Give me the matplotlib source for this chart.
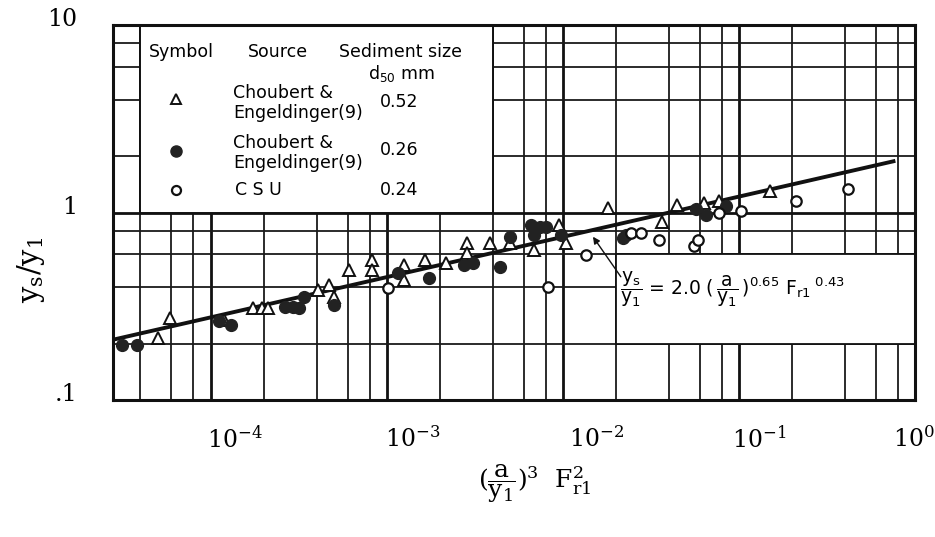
import matplotlib.pyplot as plt
from matplotlib.patches import Rectangle
from matplotlib.ticker import LogLocator, NullFormatter
from matplotlib.transforms import ScaledTranslation

# open triangles: Choubert & Engeldinger (9), d50 = 0.52 mm
tri_x = [5.0e-5, 5.86e-5, 1.19e-4, 1.75e-4, 1.95e-4, 2.13e-4, 4.09e-4, 4.72e-4,
         5.04e-4, 6.13e-4, 8.27e-4, 8.27e-4, 1.26e-3, 1.26e-3, 1.65e-3, 2.17e-3,
         2.86e-3, 2.86e-3, 3.86e-3, 5.01e-3, 6.85e-3, 9.49e-3, 1.04e-2, 1.8e-2,
         3.64e-2, 4.43e-2, 6.29e-2, 7.65e-2, 0.149]
tri_y = [0.215, 0.275, 0.268, 0.31, 0.31, 0.31, 0.387, 0.412,
         0.356, 0.496, 0.561, 0.496, 0.527, 0.438, 0.561, 0.54,
         0.691, 0.611, 0.691, 0.691, 0.634, 0.863, 0.691, 1.06,
         0.895, 1.10, 1.13, 1.15, 1.30]

# filled circles: Choubert & Engeldinger (9), d50 = 0.26 mm
dot_x = [3.13e-5, 3.81e-5, 1.12e-4, 1.31e-4, 2.63e-4, 2.95e-4, 3.19e-4, 3.41e-4,
         5.04e-4, 1.16e-3, 1.74e-3, 2.75e-3, 3.09e-3, 4.4e-3, 5.01e-3, 6.59e-3,
         6.85e-3, 7.41e-3, 8.01e-3, 9.75e-3, 2.19e-2, 2.28e-2, 5.67e-2, 6.46e-2,
         8.39e-2]
dot_y = [0.197, 0.197, 0.264, 0.252, 0.314, 0.314, 0.31, 0.356,
         0.322, 0.478, 0.449, 0.527, 0.54, 0.514, 0.744, 0.863,
         0.763, 0.842, 0.842, 0.763, 0.735, 0.763, 1.04, 0.975,
         1.08]

# open circles: CSU, d50 = 0.24 mm
csu_x = [1.01e-3, 8.22e-3, 1.35e-2, 2.43e-2, 2.77e-2, 3.5e-2, 5.52e-2, 5.82e-2,
         7.65e-2, 0.102, 0.209, 0.412]
csu_y = [0.397, 0.402, 0.596, 0.782, 0.782, 0.717, 0.666, 0.717,
         1.0, 1.025, 1.16, 1.33]

# fitted line ys/y1 = 2.0 (a/y1)^0.65 Fr1^0.43, end points
fit_x = [2.8e-5, 0.77]
fit_y = [0.21, 1.89]

x_ticks = [1e-4, 1e-3, 1e-2, 1e-1, 1e0]
x_labels = [r'$10^{-4}$', r'$10^{-3}$', r'$10^{-2}$', r'$10^{-1}$', r'$10^{0}$']
y_ticks = [0.1, 1, 10]
y_labels = ['.1', '1', '10']

plt.rcParams['font.family'] = 'DejaVu Serif'
plt.rcParams['mathtext.fontset'] = 'dejavuserif'

fig = plt.figure(figsize=(9.35, 5.37), dpi=100)
ax = fig.add_axes([0.121, 0.255, 0.858, 0.698])
ax.set_xscale('log')
ax.set_yscale('log')
ax.set_xlim(2.8e-5, 1.0)
ax.set_ylim(0.1, 10)

ax.set_xticks(x_ticks, x_labels, fontsize=17)
ax.set_yticks(y_ticks, y_labels, fontsize=17)
for a in (ax.xaxis, ax.yaxis):
    a.set_minor_locator(LogLocator(base=10, subs=(2, 4, 6, 8), numticks=30))
    a.set_minor_formatter(NullFormatter())
ax.tick_params(which='both', length=0)
ax.tick_params(axis='x', pad=19)
ax.tick_params(axis='y', pad=26)

# typed labels sit a bit off the grid lines in the original
x_shift = [-4, -2, 6, -7, -22]
for lab, dx in zip(ax.get_xticklabels(), x_shift):
    lab.set_horizontalalignment('left')
    lab.set_transform(lab.get_transform() + ScaledTranslation(dx / 100, 0, fig.dpi_scale_trans))
for lab in ax.get_yticklabels():
    lab.set_transform(lab.get_transform() + ScaledTranslation(0, 8 / 100, fig.dpi_scale_trans))

ax.set_axisbelow(True)
ax.grid(which='major', color='#111111', lw=2.0)
ax.grid(which='minor', color='#1a1a1a', lw=1.3)
for s in ax.spines.values():
    s.set_linewidth(2.2)
    s.set_color('#111111')

# legend panel and equation panel blank out the grid
ax.add_patch(Rectangle((4e-5, 1), 4e-3 - 4e-5, 9, facecolor='white',
                       edgecolor='#111111', lw=1.4, zorder=1))
ax.add_patch(Rectangle((0.02, 0.2), 0.98, 0.4, facecolor='white',
                       edgecolor='#111111', lw=1.3, zorder=1))

ax.plot(fit_x, fit_y, color='#111111', lw=2.8, zorder=2, solid_capstyle='butt')
ax.plot(tri_x, tri_y, '^', ms=8, mfc='white', mec='#111111', mew=1.4, ls='none', zorder=3)
ax.plot(dot_x, dot_y, 'o', ms=8.5, mfc='#222222', mec='#222222', ls='none', zorder=3)
ax.plot(csu_x, csu_y, 'o', ms=7.5, mfc='white', mec='#111111', mew=1.6, ls='none', zorder=3)

# equation and pointer
ax.annotate('', xy=(1.48e-2, 0.744), xytext=(2.13e-2, 0.455),
            arrowprops=dict(arrowstyle='-|>', color='#111111', lw=1.0,
                            mutation_scale=10, shrinkA=0, shrinkB=0), zorder=4)
ax.text(0.632, 0.296,
        r'$\dfrac{\mathrm{y_s}}{\mathrm{y_1}}$ = 2.0 $(\,\dfrac{\mathrm{a}}{\mathrm{y_1}}\,)^{0.65}$'
        r' $\mathrm{F_{r1}}^{\ 0.43}$',
        transform=ax.transAxes, ha='left', va='center', fontsize=13.5,
        family='DejaVu Sans', math_fontfamily='dejavusans', zorder=4)

# legend written in the panel
lk = dict(transform=ax.transAxes, family='DejaVu Sans', fontsize=12.5, va='center', zorder=4)
ax.text(0.044, 0.928, 'Symbol', **lk)
ax.text(0.168, 0.928, 'Source', **lk)
ax.text(0.281, 0.928, 'Sediment size', **lk)
ax.text(0.318, 0.872, r'$\mathrm{d_{50}}$ mm', math_fontfamily='dejavusans', **lk)
ax.plot([0.0786], [0.803], '^', ms=7, mfc='white', mec='#111111', mew=1.4,
        transform=ax.transAxes, zorder=4)
ax.plot([0.0786], [0.664], 'o', ms=8, color='#222222', transform=ax.transAxes, zorder=4)
ax.plot([0.0786], [0.56], 'o', ms=6.5, mfc='white', mec='#111111', mew=1.6,
        transform=ax.transAxes, zorder=4)
ax.text(0.150, 0.819, 'Choubert &', **lk)
ax.text(0.150, 0.765, 'Engeldinger(9)', **lk)
ax.text(0.333, 0.795, '0.52', **lk)
ax.text(0.150, 0.685, 'Choubert &', **lk)
ax.text(0.150, 0.632, 'Engeldinger(9)', **lk)
ax.text(0.333, 0.667, '0.26', **lk)
ax.text(0.152, 0.56, 'C S U', **lk)
ax.text(0.333, 0.56, '0.24', **lk)

ax.set_xlabel(r'$(\dfrac{\mathrm{a}}{\mathrm{y_1}})^{3}\ \ \mathrm{F_{r1}^{2}}$', fontsize=18, va='top')
ax.xaxis.set_label_coords(0.525, -0.165)
ax.set_ylabel(r'$\mathrm{y_s/y_1}$', fontsize=21, va='center')
ax.yaxis.set_label_coords(-0.103, 0.347)

fig.savefig('out.png', dpi=100)
